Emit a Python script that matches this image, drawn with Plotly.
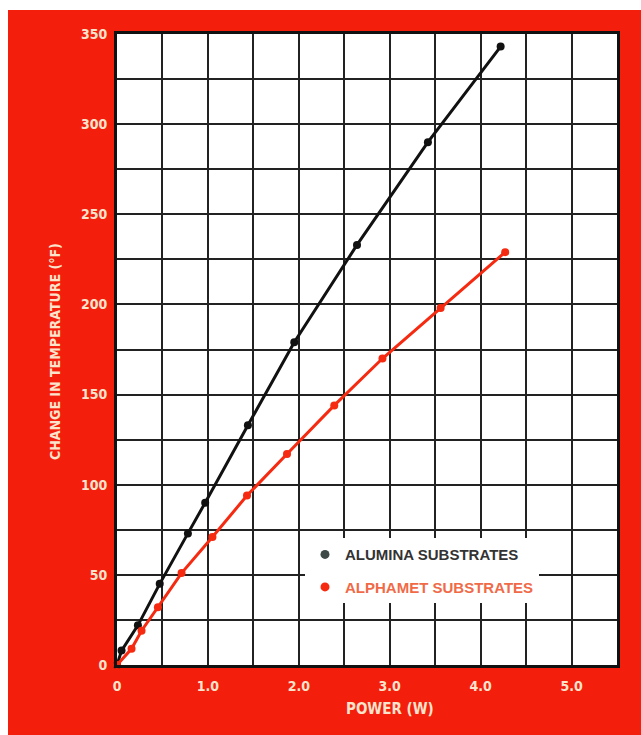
import plotly.graph_objects as go

alumina_power = [0, 0.05, 0.23, 0.47, 0.78, 0.97, 1.44, 1.95, 2.64, 3.42, 4.22]
alumina_temp = [0, 8, 22, 45, 73, 90, 133, 179, 233, 290, 343]

alphamet_power = [0, 0.16, 0.27, 0.45, 0.71, 1.05, 1.43, 1.87, 2.39, 2.92, 3.56, 4.27]
alphamet_temp = [0, 9, 19, 32, 51, 71, 94, 117, 144, 170, 198, 229]

x_ticks = [0, 1, 2, 3, 4, 5]
x_tick_text = ["0", "1.0", "2.0", "3.0", "4.0", "5.0"]
y_ticks = [0, 50, 100, 150, 200, 250, 300, 350]

RED = "#f41e0c"
CREAM = "#fbe3cc"
LABEL_FONT = "DejaVu Sans Condensed, Liberation Sans Narrow, sans-serif"

fig = go.Figure()

fig.add_trace(go.Scatter(
    x=alumina_power, y=alumina_temp, mode="lines+markers",
    line=dict(color="#111111", width=3), marker=dict(color="#111111", size=8),
    showlegend=False, cliponaxis=False,
))
fig.add_trace(go.Scatter(
    x=alphamet_power, y=alphamet_temp, mode="lines+markers",
    line=dict(color="#f52a10", width=3), marker=dict(color="#f52a10", size=8),
    showlegend=False, cliponaxis=False,
))

# legend-only dots
fig.add_trace(go.Scatter(
    x=[None], y=[None], mode="markers", legendgroup="a",
    marker=dict(color="#3d4a48", size=9),
    name="<span style='color:#333333'>ALUMINA SUBSTRATES</span>",
))
fig.add_trace(go.Scatter(
    x=[None], y=[None], mode="markers", legendgroup="b",
    marker=dict(color="#f52a10", size=9),
    name="<span style='color:#f06a48'>ALPHAMET SUBSTRATES</span>",
))

# thin white edge of the scan, top and left
fig.add_shape(type="rect", xref="paper", yref="paper",
              x0=-0.3, x1=1.2, y0=1.038, y1=1.1,
              fillcolor="white", line_width=0, layer="below")
fig.add_shape(type="rect", xref="paper", yref="paper",
              x0=-0.3, x1=-0.218, y0=-0.2, y1=1.1,
              fillcolor="white", line_width=0, layer="below")

fig.add_annotation(
    text="CHANGE IN TEMPERATURE (°F)", xref="paper", yref="paper",
    x=-0.124, y=0.496, textangle=-90, showarrow=False,
    xanchor="center", yanchor="middle",
    font=dict(family=LABEL_FONT, size=14, color=CREAM, weight="bold"),
)
fig.add_annotation(
    text="POWER (W)", xref="x", yref="paper",
    x=3.0, y=-0.07, showarrow=False, xanchor="center", yanchor="middle",
    font=dict(family=LABEL_FONT, size=15, color=CREAM, weight="bold"),
)

fig.update_xaxes(
    range=[0, 5.5], tickvals=x_ticks, ticktext=x_tick_text,
    showgrid=True, gridcolor="#222222", gridwidth=1.5,
    minor=dict(dtick=0.5, showgrid=True, gridcolor="#222222", gridwidth=1.5),
    showline=True, linecolor="#111111", linewidth=3, mirror=True,
    ticks="outside", ticklen=6, tickcolor=RED, zeroline=False,
    tickfont=dict(family=LABEL_FONT, size=14, color=CREAM, weight="bold"),
)
fig.update_yaxes(
    range=[0, 350], tickvals=y_ticks,
    showgrid=True, gridcolor="#222222", gridwidth=1.5,
    minor=dict(dtick=25, showgrid=True, gridcolor="#222222", gridwidth=1.5),
    showline=True, linecolor="#111111", linewidth=3, mirror=True,
    ticks="outside", ticklen=4, tickcolor=RED, zeroline=False,
    tickfont=dict(family=LABEL_FONT, size=14, color=CREAM, weight="bold"),
)

fig.update_layout(
    width=641, height=735,
    margin=dict(l=117, r=24, t=34, b=70),
    paper_bgcolor=RED, plot_bgcolor="white",
    legend=dict(
        x=0.376, y=0.201, xanchor="left", yanchor="top",
        bgcolor="white", borderwidth=0, itemwidth=30,
        tracegroupgap=10,
        font=dict(family="Liberation Sans, Arial, sans-serif", size=15,
                  weight="bold"),
    ),
)

fig.write_html(
    "out.html",
    config={"displayModeBar": False},
    post_script="document.body.style.margin='0';document.body.style.overflow='hidden';",
)
